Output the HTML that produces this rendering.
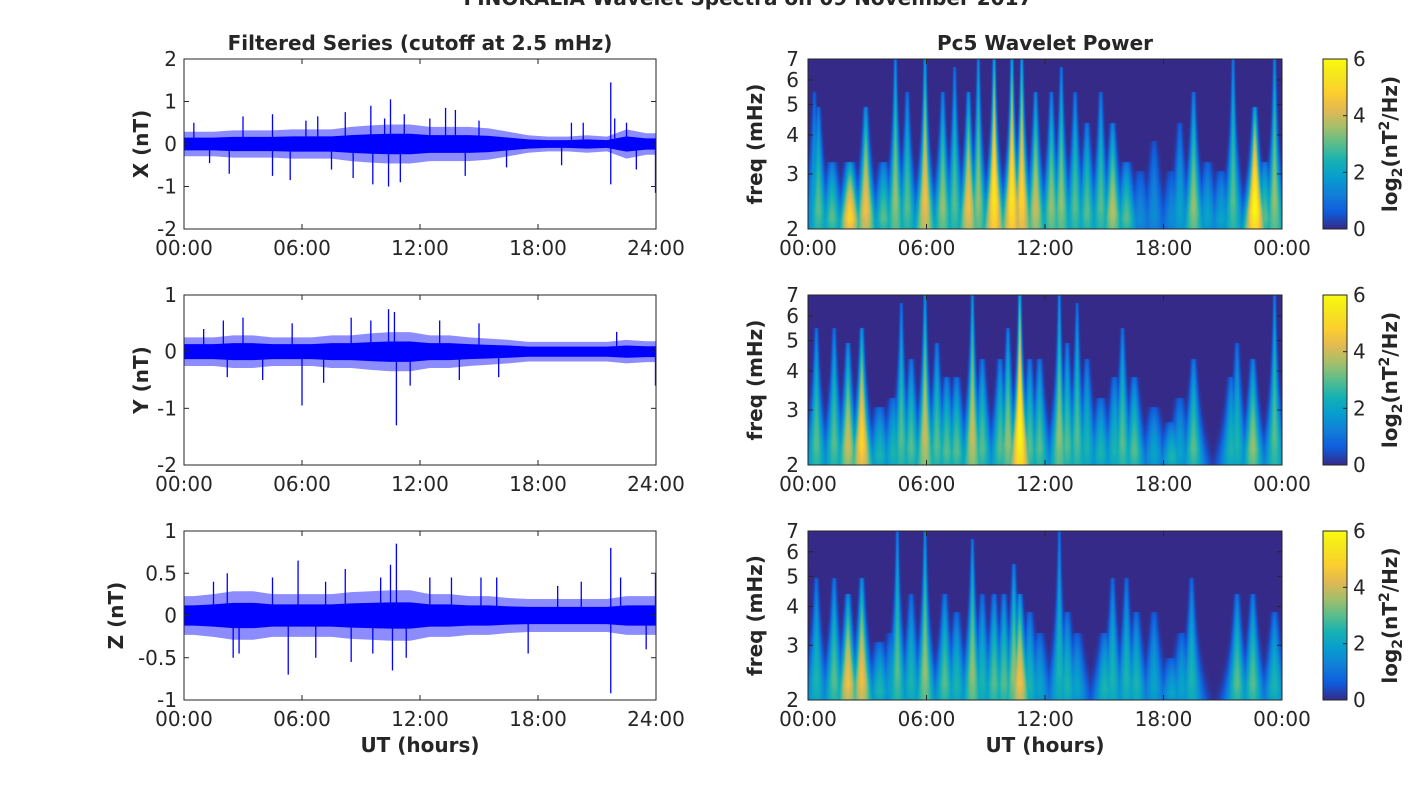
<!DOCTYPE html>
<html><head><meta charset="utf-8">
<style>
html,body{margin:0;padding:0;background:#fff;}
#wrap{position:relative;width:1418px;height:788px;overflow:hidden;font-family:"DejaVu Sans","Liberation Sans",sans-serif;}
canvas{position:absolute;}
svg{position:absolute;left:0;top:0;}
</style></head>
<body>
<div id="wrap">
<canvas id="c0" width="474" height="170" style="left:808px;top:59px"></canvas>
<canvas id="c1" width="474" height="170" style="left:808px;top:295px"></canvas>
<canvas id="c2" width="474" height="170" style="left:808px;top:531px"></canvas>
<svg id="svg" width="1418" height="788"></svg>
</div>
<script>
// ---------- data ----------
const hourTicks = ["00:00","06:00","12:00","18:00","24:00"];
const hourTicksR = ["00:00","06:00","12:00","18:00","00:00"];
const freqTicks = [2,3,4,5,6,7];
const cbTicks = [0,2,4,6];
// time-series typical amplitude per hour (nT)
const ampX = [0.25,0.25,0.28,0.28,0.28,0.3,0.3,0.3,0.35,0.38,0.4,0.4,0.35,0.35,0.35,0.32,0.25,0.18,0.15,0.15,0.18,0.15,0.3,0.22];
const ampY = [0.22,0.22,0.25,0.25,0.22,0.22,0.22,0.25,0.25,0.28,0.3,0.3,0.25,0.25,0.22,0.2,0.18,0.15,0.15,0.15,0.15,0.15,0.18,0.16];
const ampZ = [0.2,0.22,0.25,0.25,0.22,0.22,0.22,0.22,0.24,0.25,0.26,0.26,0.22,0.22,0.2,0.2,0.18,0.17,0.17,0.17,0.17,0.17,0.2,0.2];
// spikes: time (h), value (nT)
const spikeTX = [0.5,1.3,2.3,3.0,4.5,4.5,5.4,6.2,6.8,7.5,8.2,8.6,9.5,9.6,10.2,10.5,10.4,11.0,11.2,12.5,13.3,13.8,14.3,15.0,16.4,19.2,19.7,20.3,21.7,21.7,21.9,22.5,23.0,24.0];
const spikeVX = [0.5,-0.45,-0.7,0.65,0.7,-0.75,-0.85,0.55,0.65,-0.6,0.75,-0.8,0.9,-0.95,0.6,1.05,-1.0,-0.9,0.7,0.6,0.85,0.8,-0.75,0.55,-0.55,-0.5,0.5,0.5,1.45,-0.95,0.6,0.5,-0.6,-1.15];
const spikeTY = [1.0,2.0,2.2,3.0,4.0,5.5,6.0,7.1,8.5,9.5,10.4,10.8,10.7,11.5,13.0,14.0,15.0,16.0,22.0,24.0];
const spikeVY = [0.4,0.55,-0.45,0.6,-0.5,0.5,-0.95,-0.55,0.6,0.55,0.75,-1.3,0.7,-0.6,0.55,-0.5,0.5,-0.45,0.35,-0.6];
const spikeTZ = [1.5,2.2,2.5,2.8,4.5,5.3,5.8,6.7,7.2,8.2,8.5,9.6,10.0,10.5,10.8,10.6,11.3,12.5,13.6,15.1,15.9,17.5,19.0,20.2,21.7,21.7,22.2,23.5,24.0];
const spikeVZ = [0.4,0.5,-0.5,-0.45,0.45,-0.7,0.65,-0.5,0.4,0.55,-0.55,-0.45,0.45,0.6,0.85,-0.65,-0.5,0.45,0.45,0.45,0.45,-0.45,0.35,0.4,0.8,-0.92,0.45,-0.4,0.5];
// wavelet streaks: time (h), peak power log2, top frequency (mHz)
const strT0 = [0.3,0.5,1.2,2.1,2.9,3.8,4.4,5.0,5.9,6.8,7.4,8.1,8.6,9.4,10.3,10.8,11.5,12.3,12.8,13.5,14.1,14.8,15.4,16.1,16.8,17.5,18.4,18.8,19.5,20.2,20.9,21.5,22.6,23.1,23.6];
const strA0 = [2,3,3,5,4.5,3,3.5,3,4.5,3.5,3,4.5,3.5,5.5,5.5,5,4,3.5,3.5,3,3,3,3.8,3,1.5,1.5,1.5,2,3.5,2,2,3,6,3,3.5];
const strF0 = [5,4.5,3,3,4.5,3,7,5,7,5,6,5,7,7,7,7,5,5,6,5,4,5,4,3,2.8,3.5,2.8,4,5,3,2.8,7,4.5,3,7];
const strT1 = [0.4,1.3,2.0,2.7,3.6,4.3,4.7,5.2,5.9,6.5,7.0,7.5,8.3,8.8,9.7,10.1,10.7,11.2,11.7,12.7,13.1,13.6,14.1,14.8,15.5,15.9,16.5,17.5,18.4,18.8,19.5,21.4,21.7,22.5,23.6];
const strA1 = [3,3,4,5,2.5,2.5,3,3,4,3,3,3,4,3,3,3.5,6,3,3,3.5,3,3,2.5,2.5,2.5,3,3,2,2.5,2,3,2.5,2.5,3.5,3];
const strF1 = [5,5,4.5,5,2.8,3,6,4,7,4.5,3.5,3.5,7,4,4,5,7,4,4,7,4.5,6,4,3,3.5,5,3.5,2.8,2.5,3,4,3.5,4.5,4,7];
const strT2 = [0.4,1.3,2.0,2.7,3.6,4.2,4.5,5.2,5.9,6.9,7.5,8.3,8.8,9.4,9.9,10.4,10.7,11.2,11.7,12.7,13.1,13.6,15.0,15.4,16.1,16.6,17.5,18.4,18.9,19.4,21.7,22.5,23.6];
const strA2 = [2.5,3,4.5,4.5,2.5,2,3,2.5,3.5,3,2.5,3.5,2.5,3,3,3.5,4.5,2.5,2,2.5,2.5,2,2.5,2.5,2.5,2.5,2,2,2,2.5,3,3,2.5];
const strF2 = [4.5,4.5,4,4.5,2.8,3,7,4,7,4,3.5,6,4,4,4,5,4,3.5,3,7,3.5,3,3,4.5,4.5,3.5,3.5,2.5,3,4.5,4,4,3.5];

// ---------- helpers ----------
const NS="http://www.w3.org/2000/svg";
const svg=document.getElementById('svg');
const TXT="#262626";
const FS=20;
function mk(tag,attrs,parent){const e=document.createElementNS(NS,tag);for(const k in attrs)e.setAttribute(k,attrs[k]);(parent||svg).appendChild(e);return e;}
function text(x,y,s,size,weight,anchor,parent,rot){const t=mk('text',{x:x,y:y,'font-size':size,'font-weight':weight||'normal','text-anchor':anchor||'middle',fill:TXT,'font-family':'DejaVu Sans, Liberation Sans, sans-serif'},parent);if(rot)t.setAttribute('transform','rotate(-90 '+x+' '+y+')');t.textContent=s;return t;}

const ttl=text(748,5,"FINOKALIA Wavelet Spectra on 09 November 2017",FS,'bold');


// ---------- time series panels ----------
const LX0=184,LX1=656;
const panels=[
 {top:59,bot:229,ymin:-2,ymax:2,ticks:[-2,-1,0,1,2],lbl:["-2","-1","0","1","2"],amp:ampX,st:spikeTX,sv:spikeVX,yl:"X (nT)",name:'x',ylx:148},
 {top:295,bot:465,ymin:-2,ymax:1,ticks:[-2,-1,0,1],lbl:["-2","-1","0","1"],amp:ampY,st:spikeTY,sv:spikeVY,yl:"Y (nT)",name:'y',ylx:148},
 {top:531,bot:700,ymin:-1,ymax:1,ticks:[-1,-0.5,0,0.5,1],lbl:["-1","-0.5","0","0.5","1"],amp:ampZ,st:spikeTZ,sv:spikeVZ,yl:"Z (nT)",name:'z',ylx:123}
];
function xT(h){return LX0+(LX1-LX0)*h/24;}
panels.forEach((p,pi)=>{
 const g=mk('g',{});
 
 
 const yV=v=>p.bot-(v-p.ymin)/(p.ymax-p.ymin)*(p.bot-p.top);
 mk('rect',{x:LX0,y:p.top,width:LX1-LX0,height:p.bot-p.top,fill:'#fff'},g);
 function bandPts(scale){
   let up=[],dn=[];
   up.push(xT(0)+','+yV(p.amp[0]*scale));dn.unshift(xT(0)+','+yV(-p.amp[0]*scale));
   for(let i=0;i<p.amp.length;i++){
     const a=p.amp[i]*scale;
     up.push(xT(i+0.5)+','+yV(a));dn.unshift(xT(i+0.5)+','+yV(-a));
   }
   const l=p.amp[p.amp.length-1]*scale;
   up.push(xT(24)+','+yV(l));dn.unshift(xT(24)+','+yV(-l));
   return up.concat(dn).join(' ');
 }
 const band=mk('polygon',{points:bandPts(1.15),fill:'#0000ff','fill-opacity':0.45},g);
 
 
 const core=mk('polygon',{points:bandPts(0.6),fill:'#0000ff'},g);
 
 
 for(let i=0;i<p.st.length;i++){
   const x=Math.min(xT(p.st[i]),LX1-0.5);
   const l=mk('line',{x1:x,x2:x,y1:yV(0),y2:yV(p.sv[i]),stroke:'#0000ff','stroke-width':1.3},g);
   
   
 }
 mk('rect',{x:LX0,y:p.top,width:LX1-LX0,height:p.bot-p.top,fill:'none',stroke:TXT,'stroke-width':1},g);
 hourTicks.forEach((s,i)=>{const x=xT(i*6);
   mk('line',{x1:x,x2:x,y1:p.bot,y2:p.bot-5,stroke:TXT},g);mk('line',{x1:x,x2:x,y1:p.top,y2:p.top+5,stroke:TXT},g);
   const t=text(x,p.bot+26,s,FS,'normal','middle',g);});
 p.ticks.forEach((v,i)=>{const y=yV(v);
   mk('line',{x1:LX0,x2:LX0+5,y1:y,y2:y,stroke:TXT},g);mk('line',{x1:LX1,x2:LX1-5,y1:y,y2:y,stroke:TXT},g);
   const t=text(LX0-7,y+7,p.lbl[i],FS,'normal','end',g);});
 const yl=text(p.ylx,(p.top+p.bot)/2,p.yl,FS,'bold','middle',g,true);
 
});
const lt=text(420,50,"Filtered Series (cutoff at 2.5 mHz)",FS,'bold');

const lx=text(420,752,"UT (hours)",FS,'bold');


// ---------- wavelet panels ----------
const RX0=808,RX1=1282,CB0=1323,CB1=1347;
const parulaStops=[[53,42,135],[15,92,221],[18,125,216],[7,156,207],[21,177,180],[89,189,140],[165,190,107],[225,185,82],[252,206,46],[245,229,29],[249,251,14]];
function parula(u){u=Math.max(0,Math.min(1,u));const s=u*10,i=Math.min(9,Math.floor(s)),f=s-i;const a=parulaStops[i],b=parulaStops[i+1];return [a[0]+(b[0]-a[0])*f,a[1]+(b[1]-a[1])*f,a[2]+(b[2]-a[2])*f];}
const wpanels=[{top:59,bot:229,T:strT0,A:strA0,F:strF0,n:'x'},{top:295,bot:465,T:strT1,A:strA1,F:strF1,n:'y'},{top:531,bot:700,T:strT2,A:strA2,F:strF2,n:'z'}];
const defs=mk('defs',{});
const lg=mk('linearGradient',{id:'cbg',x1:0,y1:1,x2:0,y2:0},defs);
for(let i=0;i<=10;i++){const c=parula(i/10);mk('stop',{offset:i/10,'stop-color':'rgb('+c.map(Math.round).join(',')+')'},lg);}
wpanels.forEach((p,pi)=>{
 const H=p.bot-p.top,W=RX1-RX0;
 const ctx=document.getElementById('c'+pi).getContext('2d');
 const img=ctx.createImageData(W,H);
 for(let py=0;py<H;py++){
   const f=2*Math.pow(3.5,(H-py)/H);
   const w=0.6*Math.pow(2/f,2.6)+0.04;
   for(let px=0;px<W;px++){
     const t=px/W*24;let v=0;
     for(let k=0;k<p.T.length;k++){
       const top=p.F[k]*1.1; if(f>top)continue;
       const dt=(t-p.T[k])/w; if(Math.abs(dt)>3)continue;
       const r=Math.log(f/2)/Math.log(top/2);
       const prof=r<0.15?0.85+r:(1-0.7*Math.pow((r-0.15)/0.85,1.6));
       const val=p.A[k]*Math.exp(-dt*dt)*prof;
       if(val>v)v=val;
     }
     const c=parula(v/6);const o=(py*W+px)*4;
     img.data[o]=c[0];img.data[o+1]=c[1];img.data[o+2]=c[2];img.data[o+3]=255;
   }
 }
 ctx.putImageData(img,0,0);
 const g=mk('g',{});
 
 
 mk('rect',{x:RX0,y:p.top,width:W,height:H,fill:'none',stroke:TXT},g);
 const yF=f=>p.bot-Math.log(f/2)/Math.log(3.5)*H;
 hourTicksR.forEach((s,i)=>{const x=RX0+W*i/4;
   mk('line',{x1:x,x2:x,y1:p.bot,y2:p.bot-5,stroke:TXT},g);mk('line',{x1:x,x2:x,y1:p.top,y2:p.top+5,stroke:TXT},g);
   const t=text(x,p.bot+26,s,FS,'normal','middle',g);});
 freqTicks.forEach(fv=>{const y=yF(fv);
   mk('line',{x1:RX0,x2:RX0+5,y1:y,y2:y,stroke:TXT},g);mk('line',{x1:RX1,x2:RX1-5,y1:y,y2:y,stroke:TXT},g);
   const t=text(RX0-9,y+7,String(fv),FS,'normal','end',g);});
 const yl=text(762,(p.top+p.bot)/2,"freq (mHz)",FS,'bold','middle',g,true);
 
 const cb=mk('rect',{x:CB0,y:p.top,width:CB1-CB0,height:H,fill:'url(#cbg)',stroke:TXT},g);
 
 cbTicks.forEach(v=>{const y=p.bot-v/6*H;
   mk('line',{x1:CB1,x2:CB1-4,y1:y,y2:y,stroke:TXT},g);
   const t=text(CB1+6,y+7,String(v),FS,'normal','start',g);});
 const cl=mk('text',{x:1397,y:(p.top+p.bot)/2,'font-size':FS,'font-weight':'bold','text-anchor':'middle',fill:TXT,'font-family':'DejaVu Sans, sans-serif',transform:'rotate(-90 1397 '+((p.top+p.bot)/2)+')'},g);
 
 cl.innerHTML='log<tspan font-size="14" dy="5">2</tspan><tspan dy="-5">(nT</tspan><tspan font-size="14" dy="-8">2</tspan><tspan dy="8">/Hz)</tspan>';
});
const rt=text(1045,50,"Pc5 Wavelet Power",FS,'bold');

const rx=text(1045,752,"UT (hours)",FS,'bold');

</script>
</body></html>
